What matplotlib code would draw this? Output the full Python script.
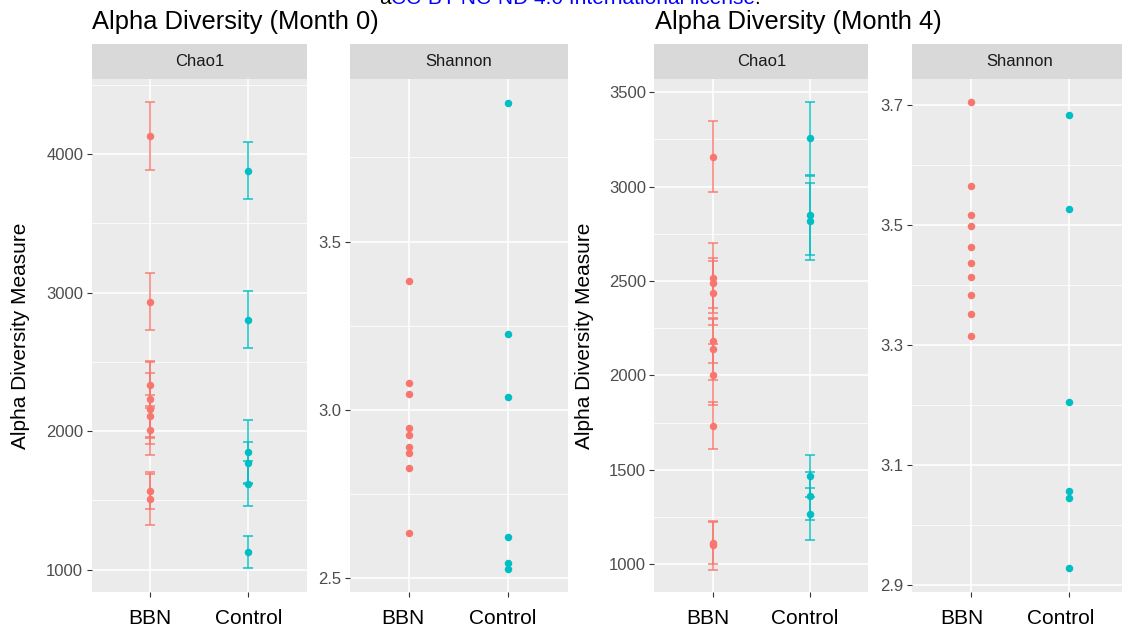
import matplotlib
matplotlib.use('Agg')
import matplotlib.pyplot as plt
import matplotlib.transforms as mtransforms
from matplotlib.ticker import MultipleLocator

plt.rcParams['font.family'] = ['Liberation Sans', 'DejaVu Sans']

# ---------------- data ----------------
groups = ['BBN', 'Control']
group_colors = ['#F8766D', '#00BFC4']

m0_chao1_bbn = [4130, 2935, 2335, 2231, 2162, 2106, 2005, 1570, 1508]
m0_chao1_bbn_se = [243, 203, 170, 270, 257, 154, 178, 133, 183]
m0_chao1_ctrl = [3880, 2805, 1851, 1772, 1621, 1125]
m0_chao1_ctrl_se = [208, 206, 226, 152, 160, 115]

m0_shannon_bbn = [3.384, 3.080, 3.047, 2.947, 2.925, 2.889, 2.871, 2.826, 2.634]
m0_shannon_ctrl = [3.913, 3.226, 3.038, 2.621, 2.544, 2.526]

m4_chao1_bbn = [3158, 2517, 2489, 2437, 2182, 2140, 2004, 1733, 1112, 1100]
m4_chao1_bbn_se = [187, 186, 133, 170, 117, 166, 160, 125, 110, 128]
m4_chao1_ctrl = [3255, 2848, 2816, 1468, 1361, 1266]
m4_chao1_ctrl_se = [195, 210, 205, 110, 128, 140]

m4_shannon_bbn = [3.705, 3.565, 3.516, 3.498, 3.463, 3.437, 3.413, 3.383, 3.352, 3.314]
m4_shannon_ctrl = [3.683, 3.526, 3.204, 3.057, 3.045, 2.928]

titles = ['Alpha Diversity (Month 0)', 'Alpha Diversity (Month 4)']
strip_labels = ['Chao1', 'Shannon']
ylabel = 'Alpha Diversity Measure'

# ---------------- layout ----------------
W, H = 1122, 632
fig = plt.figure(figsize=(W / 100, H / 100), dpi=100)
fig.patch.set_facecolor('white')

PANEL_TOP, PANEL_BOT = 79, 592
STRIP_TOP = 43.5


def px_axes(x0, x1, y0, y1):
    return fig.add_axes([x0 / W, 1 - y1 / H, (x1 - x0) / W, (y1 - y0) / H])


panels = [
    dict(x0=91.5, x1=307.1, ylim=(839, 4541), step=1000, offset=0, strip=strip_labels[0],
         data=[(m0_chao1_bbn, m0_chao1_bbn_se), (m0_chao1_ctrl, m0_chao1_ctrl_se)],
         fmt='{:.0f}', dx=0),
    dict(x0=349.9, x1=567.7, ylim=(2.459, 3.983), step=0.5, offset=0, strip=strip_labels[1],
         data=[(m0_shannon_bbn, None), (m0_shannon_ctrl, None)],
         fmt='{:.1f}', dx=-6),
    dict(x0=654.3, x1=868.4, ylim=(853, 3570), step=500, offset=0, strip=strip_labels[0],
         data=[(m4_chao1_bbn, m4_chao1_bbn_se), (m4_chao1_ctrl, m4_chao1_ctrl_se)],
         fmt='{:.0f}', dx=-5),
    dict(x0=912.0, x1=1128.3, ylim=(2.888, 3.743), step=0.2, offset=0.1, strip=strip_labels[1],
         data=[(m4_shannon_bbn, None), (m4_shannon_ctrl, None)],
         fmt='{:.1f}', dx=-9),
]

for p in panels:
    ax = px_axes(p['x0'], p['x1'], PANEL_TOP, PANEL_BOT)
    ax.set_facecolor('#EBEBEB')
    for s in ax.spines.values():
        s.set_visible(False)

    for g, col, (vals, se) in zip(groups, group_colors, p['data']):
        xs = [g] * len(vals)
        if se is not None:
            ax.errorbar(xs, vals, yerr=se, fmt='none', ecolor=col, elinewidth=1.2,
                        capsize=3.8, capthick=1.2, alpha=0.85, zorder=3)
        ax.plot(xs, vals, 'o', color=col, markersize=5.4, markeredgewidth=0, zorder=4)

    ax.set_xlim(-0.6, 1.6)
    ax.set_ylim(*p['ylim'])
    ax.yaxis.set_major_locator(MultipleLocator(p['step'], offset=p['offset']))
    ax.yaxis.set_minor_locator(MultipleLocator(p['step'] / 2))
    ax.yaxis.set_major_formatter(matplotlib.ticker.FuncFormatter(
        lambda v, pos, f=p['fmt']: f.format(v)))
    ax.set_axisbelow(True)
    ax.grid(which='major', color='white', linewidth=1.1)
    ax.grid(which='minor', axis='y', color='white', linewidth=0.55)
    ax.tick_params(which='minor', length=0)
    ax.tick_params(which='major', length=3.5, width=0.8, color='#333333')
    ax.tick_params(axis='y', labelsize=12, labelcolor='#4D4D4D', pad=2.5)
    ax.tick_params(axis='x', labelbottom=False)

    off = mtransforms.ScaledTranslation(p['dx'] / 100, -16.5 / 100, fig.dpi_scale_trans)
    trans = mtransforms.blended_transform_factory(ax.transData, ax.transAxes) + off
    for i, g in enumerate(groups):
        ax.text(i, 0, g, transform=trans, ha='center', va='top', fontsize=15,
                color='black', clip_on=False)

    sax = px_axes(p['x0'], p['x1'], STRIP_TOP, PANEL_TOP)
    sax.set_facecolor('#D9D9D9')
    sax.set_xticks([])
    sax.set_yticks([])
    for s in sax.spines.values():
        s.set_visible(False)
    sax.text(0.5, 0.5, p['strip'], transform=sax.transAxes, ha='center', va='center',
             fontsize=12, color='#1A1A1A')

# titles
fig.text(92 / W, 1 - 28.5 / H, titles[0], fontsize=18.4, ha='left', va='baseline', color='black')
fig.text(655 / W, 1 - 28.5 / H, titles[1], fontsize=18.4, ha='left', va='baseline', color='black')

# y labels
mid = 1 - (PANEL_TOP + PANEL_BOT) / 2 / H
fig.text(21 / W, mid, ylabel, rotation=90, fontsize=15, ha='center', va='center')
fig.text(584 / W, mid, ylabel, rotation=90, fontsize=15, ha='center', va='center')

# header license text (partially cut off at the top, as in the source image)
renderer = fig.canvas.get_renderer()
x = 379
base_y = 1 - 4.5 / H
for frag, col in [('a', 'black'), ('CC-BY-NC-ND 4.0 International license', '#0000FF'), ('.', 'black')]:
    t = fig.text(x / W, base_y, frag, fontsize=15, color=col, ha='left', va='baseline')
    bb = t.get_window_extent(renderer)
    x += bb.width

fig.savefig('out.png', dpi=100)
